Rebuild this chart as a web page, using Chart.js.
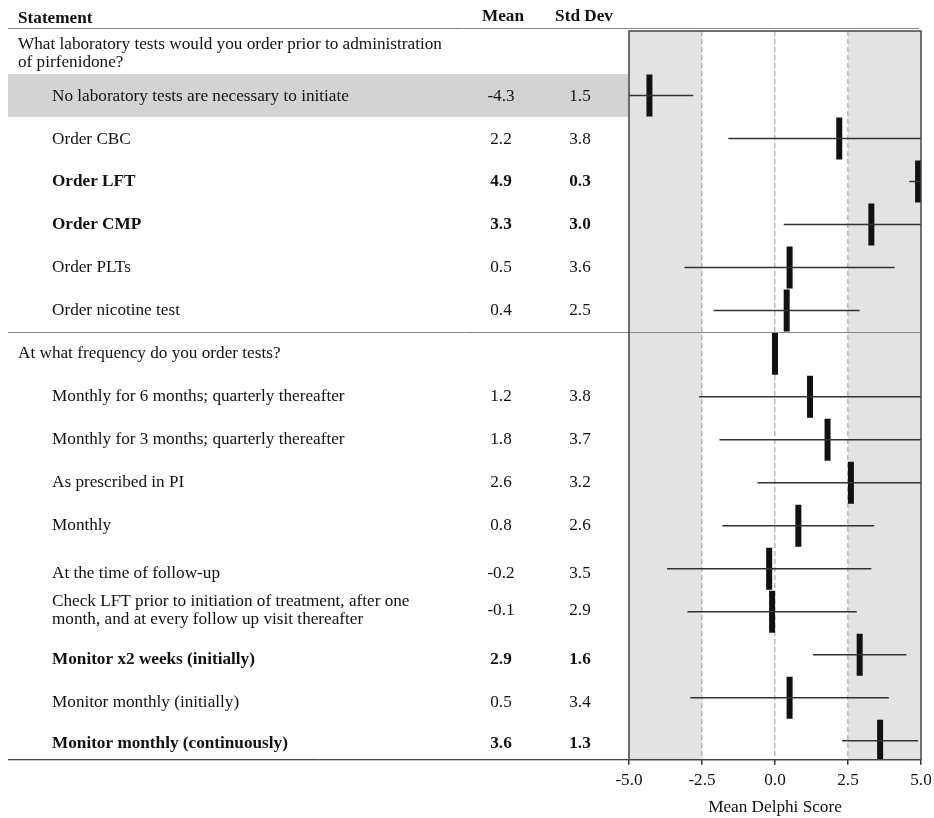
<!DOCTYPE html>
<html>
<head>
<meta charset="utf-8">
<script src="https://cdn.jsdelivr.net/npm/chart.js@4/dist/chart.umd.min.js"></script>
<style>
  body { margin: 0; background: #fff; }
  #wrap { width: 934px; height: 818px; }
</style>
</head>
<body>
<div id="wrap"><canvas id="mainChart"></canvas></div>
<script>
const statements = [
    ['What laboratory tests would you order prior to administration', 'of pirfenidone?'],
    ['No laboratory tests are necessary to initiate'],
    ['Order CBC'],
    ['Order LFT'],
    ['Order CMP'],
    ['Order PLTs'],
    ['Order nicotine test'],
    ['At what frequency do you order tests?'],
    ['Monthly for 6 months; quarterly thereafter'],
    ['Monthly for 3 months; quarterly thereafter'],
    ['As prescribed in PI'],
    ['Monthly'],
    ['At the time of follow-up'],
    ['Check LFT prior to initiation of treatment, after one', 'month, and at every follow up visit thereafter'],
    ['Monitor x2 weeks (initially)'],
    ['Monitor monthly (initially)'],
    ['Monitor monthly (continuously)']
];
const means = [null, -4.3, 2.2, 4.9, 3.3, 0.5, 0.4, 0, 1.2, 1.8, 2.6, 0.8, -0.2, -0.1, 2.9, 0.5, 3.6];
const stdDevs = [null, 1.5, 3.8, 0.3, 3.0, 3.6, 2.5, 0, 3.8, 3.7, 3.2, 2.6, 3.5, 2.9, 1.6, 3.4, 1.3];
const isGroup = [true, false, false, false, false, false, false, true, false, false, false, false, false, false, false, false, false];
const isBold = [false, false, false, true, true, false, false, false, false, false, false, false, false, false, true, false, true];
const highlightRow = 1;
const xTicks = [-5, -2.5, 0, 2.5, 5];

// table text sits a little off the marks in the last rows
const textShift = [1, 1, 1, 0, 0, 0, 0, 0, 0, 0, 0, 0, 5, -1, 5, 5, 3];

const serif = '"Liberation Serif", "Times New Roman", serif';
const fontSize = 17.2;

// one thin line per statement: mean +/- sd
const errorSets = [];
means.forEach((m, i) => {
    if (m === null || !stdDevs[i]) return;
    errorSets.push({
        type: 'scatter',
        data: [{ x: m - stdDevs[i], y: i }, { x: m + stdDevs[i], y: i }],
        showLine: true,
        borderColor: '#333',
        borderWidth: 1.5,
        pointRadius: 0
    });
});

const meanSet = {
    type: 'scatter',
    data: means.map((m, i) => m === null ? null : { x: m, y: i }).filter(p => p),
    pointStyle: 'line',
    rotation: 90,
    pointRadius: 21,
    borderWidth: 6,
    borderColor: '#111',
    backgroundColor: '#111'
};

const tablePlugin = {
    id: 'table',
    beforeDraw(chart) {
        const { ctx, chartArea: a, scales: { x, y } } = chart;
        ctx.save();
        // highlighted row in the table
        const r0 = y.getPixelForValue(highlightRow - 0.5);
        const r1 = y.getPixelForValue(highlightRow + 0.5);
        ctx.fillStyle = '#d3d3d3';
        ctx.fillRect(8, r0, a.left - 8, r1 - r0);
        // shaded zones outside -2.5..2.5
        ctx.fillStyle = '#e3e3e3';
        const xl = x.getPixelForValue(-2.5), xr = x.getPixelForValue(2.5);
        ctx.fillRect(a.left, a.top, xl - a.left, a.bottom - a.top);
        ctx.fillRect(xr, a.top, a.right - xr, a.bottom - a.top);
        ctx.restore();
    },
    afterDraw(chart) {
        const { ctx, chartArea: a, scales: { y } } = chart;
        ctx.save();
        ctx.fillStyle = '#111';
        ctx.textBaseline = 'middle';

        // header
        ctx.font = 'bold ' + fontSize + 'px ' + serif;
        ctx.textAlign = 'left';
        ctx.fillText('Statement', 18, 19);
        ctx.textAlign = 'center';
        ctx.fillText('Mean', 503, 17);
        ctx.fillText('Std Dev', 584, 17);

        ctx.strokeStyle = '#888';
        ctx.lineWidth = 1;
        ctx.beginPath();
        ctx.moveTo(8, 28.5); ctx.lineTo(919, 28.5);
        const sep = Math.round(y.getPixelForValue(6.5)) + 0.5;
        ctx.moveTo(8, sep); ctx.lineTo(a.right, sep);
        ctx.stroke();

        ctx.strokeStyle = '#111';
        ctx.beginPath();
        ctx.moveTo(8, a.bottom); ctx.lineTo(a.left, a.bottom);
        ctx.stroke();

        // frame of the plot
        ctx.strokeStyle = '#444';
        ctx.lineWidth = 1.5;
        ctx.strokeRect(a.left, a.top, a.right - a.left, a.bottom - a.top);

        statements.forEach((lines, i) => {
            const cy = y.getPixelForValue(i) + textShift[i];
            ctx.font = (isBold[i] ? 'bold ' : '') + fontSize + 'px ' + serif;
            ctx.textAlign = 'left';
            const tx = isGroup[i] ? 18 : 52;
            const lh = 18;
            lines.forEach((t, k) => {
                ctx.fillText(t, tx, cy + (k - (lines.length - 1) / 2) * lh);
            });
            if (!isGroup[i]) {
                ctx.textAlign = 'center';
                ctx.fillText(means[i].toFixed(1), 501, cy);
                ctx.fillText(stdDevs[i].toFixed(1), 580, cy);
            }
        });
        ctx.restore();
    }
};

const ctx = document.getElementById('mainChart').getContext('2d');
const chart = new Chart(ctx, {
    type: 'scatter',
    data: { datasets: [...errorSets, meanSet] },
    options: {
        responsive: true,
        maintainAspectRatio: false,
        animation: false,
        layout: { autoPadding: false, padding: { left: 629, right: 13, top: 31, bottom: 0 } },
        plugins: { legend: { display: false }, tooltip: { enabled: false } },
        scales: {
            x: {
                type: 'linear',
                min: -5,
                max: 5,
                afterBuildTicks: axis => { axis.ticks = xTicks.map(v => ({ value: v })); },
                afterFit: axis => { axis.paddingLeft = 0; axis.paddingRight = 0; },
                ticks: {
                    callback: v => v.toFixed(1),
                    font: { family: serif, size: fontSize },
                    color: '#111',
                    padding: 5,
                    maxRotation: 0
                },
                grid: {
                    color: c => (c.tick && Math.abs(c.tick.value) === 5) ? 'rgba(0,0,0,0)' : '#b8b8b8',
                    lineWidth: 1.5,
                    tickColor: '#333',
                    tickLength: 5,
                    tickBorderDash: []
                },
                border: { display: false, dash: [5, 3] },
                title: {
                    display: true,
                    text: 'Mean Delphi Score',
                    font: { family: serif, size: fontSize },
                    color: '#111',
                    padding: { top: 2, bottom: 0 }
                }
            },
            y: {
                type: 'linear',
                display: false,
                reverse: true,
                min: -0.5,
                max: 16.44
            }
        }
    },
    plugins: [tablePlugin]
});
</script>
</body>
</html>
